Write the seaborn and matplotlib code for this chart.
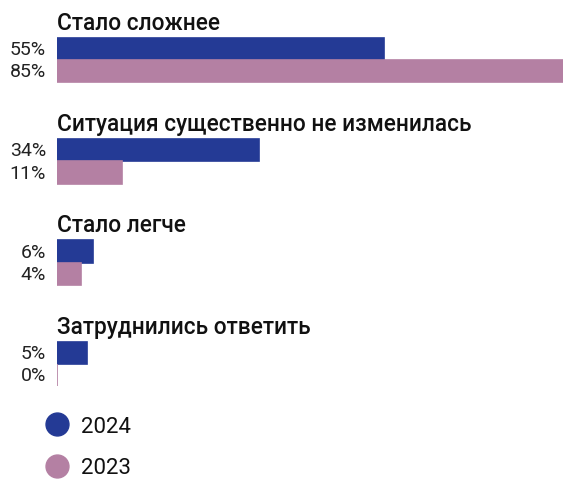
import matplotlib
matplotlib.use("Agg")
import matplotlib.pyplot as plt
from matplotlib.lines import Line2D
import pandas as pd
import seaborn as sns

categories = [
    "Стало сложнее",
    "Ситуация существенно не изменилась",
    "Стало легче",
    "Затруднились ответить",
]
years = ["2024", "2023"]
values_2024 = [55, 34, 6, 5]
values_2023 = [85, 11, 4, 0]
colors = {"2024": "#243A95", "2023": "#B480A3"}

df = pd.DataFrame({
    "category": categories * 2,
    "year": ["2024"] * len(categories) + ["2023"] * len(categories),
    "value": values_2024 + values_2023,
})

sns.set_theme(style="white")
plt.rcParams["font.family"] = ["Roboto", "DejaVu Sans"]

fig = plt.figure(figsize=(5.63, 4.81), dpi=100)
ax = fig.add_axes([57 / 563, 0, 1 - 57 / 563, 1])

sns.barplot(
    data=df, y="category", x="value", hue="year", order=categories,
    hue_order=years, palette=colors, orient="h", width=0.44, dodge=True,
    ax=ax, legend=False, linewidth=1.2, saturation=1,
)
for patch, year in zip(ax.patches, [y for y in years for _ in categories]):
    patch.set_edgecolor(colors[year])

ax.set_xlim(0, 85)
ax.set_ylim(4.146, -0.604)
ax.set_xlabel("")
ax.set_ylabel("")
ax.set_xticks([])
ax.set_yticks([])
sns.despine(ax=ax, left=True, bottom=True)

half = 0.44 / 2
for i, cat in enumerate(categories):
    ax.annotate(cat, xy=(0, i - half), xytext=(0, 6.5), textcoords="offset points",
                ha="left", va="baseline", fontsize=16.3, fontweight="medium",
                color="#111111", annotation_clip=False)
    for vals, off in [(values_2024, -half / 2), (values_2023, half / 2)]:
        ax.annotate(f"{vals[i]}%", xy=(0, i + off), xytext=(-8, 0),
                    textcoords="offset points", ha="right", va="center",
                    fontsize=14, color="#222222", annotation_clip=False)

handles = [Line2D([], [], marker="o", ls="", markersize=16.5, color=colors[y]) for y in years]
fig.legend(handles, years, loc="upper left", bbox_to_anchor=(44 / 563, 1 - 417 / 481),
           frameon=False, fontsize=16, handletextpad=0.45, labelspacing=0.92,
           borderaxespad=0, borderpad=0, handlelength=1.2, labelcolor="#111111")

fig.savefig("out.png", dpi=100)
